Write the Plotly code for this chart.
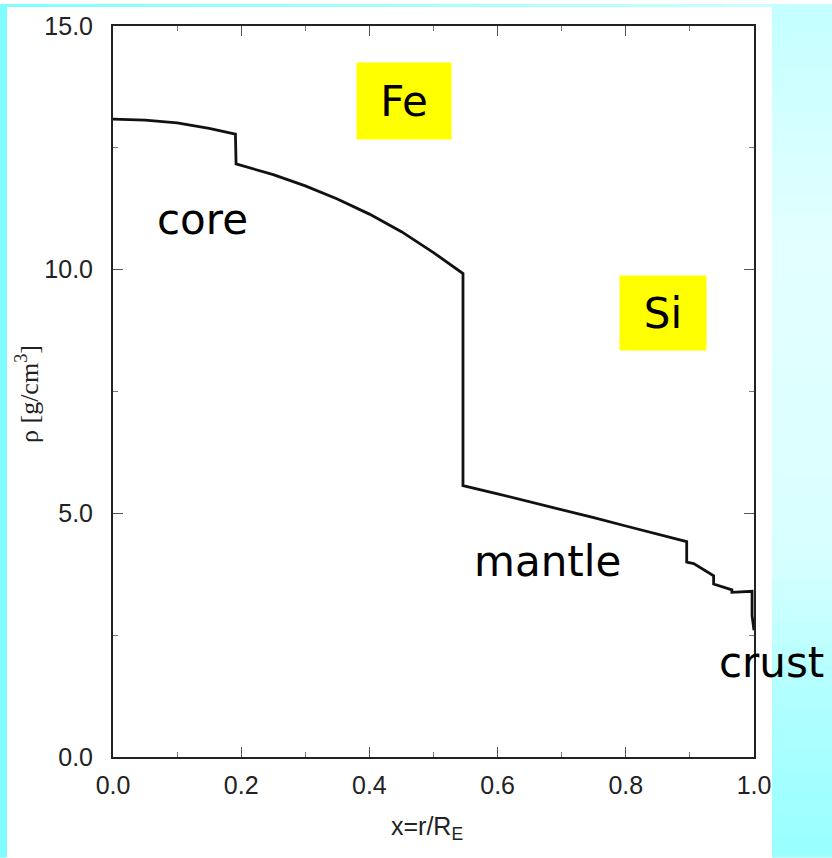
import plotly.graph_objects as go

# ---- data (x = r/R_E, rho in g/cm^3) ----
x_vals = [0.0, 0.05, 0.10, 0.15, 0.191, 0.192, 0.25, 0.30, 0.35, 0.40, 0.45, 0.50, 0.546,
          0.546, 0.60, 0.65, 0.70, 0.75, 0.80, 0.85, 0.895,
          0.895, 0.906, 0.937, 0.937, 0.9655, 0.9655, 0.997, 0.997, 1.0]
rho_vals = [13.09, 13.07, 13.01, 12.90, 12.78, 12.17, 11.95, 11.72, 11.45, 11.14, 10.78, 10.35, 9.92,
            5.57, 5.40, 5.24, 5.08, 4.91, 4.74, 4.57, 4.42,
            4.00, 3.97, 3.72, 3.55, 3.43, 3.38, 3.40, 2.90, 2.60]

x_ticks = [0.0, 0.2, 0.4, 0.6, 0.8, 1.0]
x_tick_labels = ["0.0", "0.2", "0.4", "0.6", "0.8", "1.0"]
y_ticks = [0.0, 5.0, 10.0, 15.0]
y_tick_labels = ["0.0", "5.0", "10.0", "15.0"]

labels = ["core", "mantle", "crust"]
boxed_labels = ["Fe", "Si"]

# ---- layout geometry (pixels) ----
W, H = 832, 858
L, R, T, B = 113, 754, 22, 757


def fx(px):
    return (px - L) / (R - L)


def fy(py):
    return (B - py) / (B - T)


def hexmix(c1, c2, t):
    a = [int(c1[i:i + 2], 16) for i in (1, 3, 5)]
    b = [int(c2[i:i + 2], 16) for i in (1, 3, 5)]
    return "#%02x%02x%02x" % tuple(round(a[k] + (b[k] - a[k]) * t) for k in range(3))


fig = go.Figure()
fig.add_trace(go.Scatter(x=x_vals, y=rho_vals, mode="lines",
                         line=dict(color="#111111", width=2.8),
                         hoverinfo="skip", showlegend=False))

shapes = []
# left stripe
shapes.append(dict(type="rect", xref="paper", yref="paper", x0=fx(0), x1=fx(7), y0=fy(H), y1=fy(0),
                   fillcolor="#7ffcff", line=dict(width=0), layer="below"))
# top stripe
nseg = 16
for i in range(nseg):
    p0 = 772 * i / nseg
    p1 = 772 * (i + 1) / nseg + 1
    shapes.append(dict(type="rect", xref="paper", yref="paper", x0=fx(p0), x1=fx(p1), y0=fy(3), y1=fy(0),
                       fillcolor=hexmix("#80ffff", "#c8ffff", i / (nseg - 1)), line=dict(width=0), layer="below"))
# right region vertical gradient
stops = [(0, "#c4ffff"), (250, "#e4ffff"), (550, "#d8ffff"), (700, "#b0ffff"), (858, "#98ffff")]
nb = 40
for i in range(nb):
    y0p = H * i / nb
    y1p = H * (i + 1) / nb + 1
    ym = (y0p + y1p) / 2
    col = stops[-1][1]
    for j in range(len(stops) - 1):
        if stops[j][0] <= ym <= stops[j + 1][0]:
            t = (ym - stops[j][0]) / (stops[j + 1][0] - stops[j][0])
            col = hexmix(stops[j][1], stops[j + 1][1], t)
            break
    shapes.append(dict(type="rect", xref="paper", yref="paper", x0=fx(772), x1=fx(W + 2),
                       y0=fy(min(y1p, H)), y1=fy(y0p), fillcolor=col, line=dict(width=0), layer="below"))

ann_font = dict(family="DejaVu Sans", size=42, color="#000000")
annotations = []
# boxed element labels
for txt, (cx, cy, bw, bh) in zip(boxed_labels, [(404, 99, 94, 76), (663, 313, 86, 74)]):
    annotations.append(dict(text=txt, xref="paper", yref="paper", x=fx(cx), y=fy(cy - 2),
                            xanchor="center", yanchor="middle", showarrow=False,
                            bgcolor="#ffff00", width=bw, height=bh, borderpad=0,
                            font=ann_font))
# region labels
for txt, (cx, cy) in zip(labels, [(202, 217), (547, 560), (771, 662)]):
    annotations.append(dict(text=txt, xref="paper", yref="paper", x=fx(cx), y=fy(cy),
                            xanchor="center", yanchor="middle", showarrow=False, font=ann_font))
# axis titles
annotations.append(dict(text="ρ [g/cm<sup>3</sup>]", xref="paper", yref="paper", x=fx(28), y=fy(392),
                        xanchor="center", yanchor="middle", textangle=-90, showarrow=False,
                        font=dict(family="Liberation Serif, Times New Roman, serif", size=26, color="#222222")))
annotations.append(dict(text="x=r/R<sub>E</sub>", xref="paper", yref="paper", x=fx(427), y=fy(828),
                        xanchor="center", yanchor="middle", showarrow=False,
                        font=dict(family="Liberation Sans, Arial, sans-serif", size=25, color="#222222")))

tick_font = dict(family="Liberation Sans, Arial, sans-serif", size=25, color="#222222")

fig.update_layout(
    width=W, height=H, autosize=False,
    margin=dict(l=L, r=W - R, t=T, b=H - B, pad=0),
    paper_bgcolor="#ffffff", plot_bgcolor="#ffffff",
    shapes=shapes, annotations=annotations, showlegend=False,
    xaxis=dict(range=[0, 1], tickvals=x_ticks, ticktext=x_tick_labels,
               showgrid=False, zeroline=False, showline=True, linecolor="#222222", linewidth=2,
               mirror="allticks", ticks="inside", ticklen=10, tickwidth=1, tickcolor="#555555",
               minor=dict(dtick=0.1, tick0=0, ticks="inside", ticklen=5, tickwidth=1, tickcolor="#777777",
                          showgrid=False),
               tickfont=tick_font, ticklabelstandoff=5),
    yaxis=dict(range=[0, 15], tickvals=y_ticks, ticktext=y_tick_labels,
               showgrid=False, zeroline=False, showline=True, linecolor="#222222", linewidth=2,
               mirror="allticks", ticks="inside", ticklen=10, tickwidth=1, tickcolor="#555555",
               minor=dict(dtick=2.5, tick0=0, ticks="inside", ticklen=5, tickwidth=1, tickcolor="#777777",
                          showgrid=False),
               tickfont=tick_font, ticklabelstandoff=13),
)

fig.write_html("out.html")
